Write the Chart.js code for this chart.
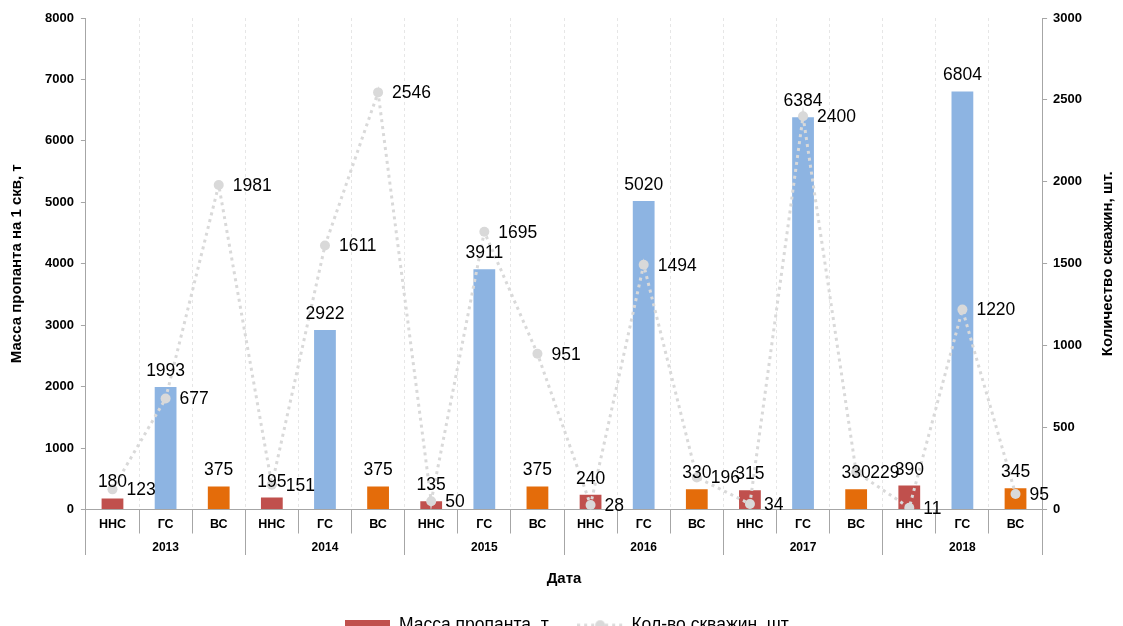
<!DOCTYPE html>
<html>
<head>
<meta charset="utf-8">
<script src="https://cdn.jsdelivr.net/npm/chart.js@4.4.0/dist/chart.umd.min.js"></script>
<style>
  html, body { margin: 0; padding: 0; background: #fff; overflow: hidden; }
  #wrap { position: relative; width: 1123px; height: 644px; }
</style>
</head>
<body>
<div id="wrap"><canvas id="chart"></canvas></div>
<script>
// Years and well types that form the two-level category axis
const years = ['2013', '2014', '2015', '2016', '2017', '2018'];
const wellTypes = ['ННС', 'ГС', 'ВС'];

// Proppant mass per well, t (one value per year × well type)
const proppantMass = [180, 1993, 375, 195, 2922, 375, 135, 3911, 375, 240, 5020, 330, 315, 6384, 330, 390, 6804, 345];

// Number of wells (one value per year × well type)
const wellCount = [123, 677, 1981, 151, 1611, 2546, 50, 1695, 951, 28, 1494, 196, 34, 2400, 229, 11, 1220, 95];

// Axis ranges
const massAxisMax = 8000, massAxisStep = 1000;
const countAxisMax = 3000, countAxisStep = 500;

const categoryLabels = years.flatMap(() => wellTypes);

const FONT = '"Liberation Sans", Arial, sans-serif';
const typeColors = { 'ННС': '#C0504D', 'ГС': '#8DB4E2', 'ВС': '#E46C0A' };
const pointGray = '#D9D9D9';
const axisGray = '#A6A6A6';

// Legend sample images
function makeBarSample() {
  const c = document.createElement('canvas');
  c.width = 45; c.height = 10;
  const g = c.getContext('2d');
  g.fillStyle = typeColors['ННС'];
  g.fillRect(0, 0, 45, 10);
  return c;
}
function makeLineSample() {
  const c = document.createElement('canvas');
  c.width = 46; c.height = 12;
  const g = c.getContext('2d');
  g.strokeStyle = pointGray;
  g.lineWidth = 3;
  g.setLineDash([3, 4]);
  g.beginPath(); g.moveTo(0, 6); g.lineTo(46, 6); g.stroke();
  g.fillStyle = pointGray;
  g.beginPath(); g.arc(23, 6, 5, 0, Math.PI * 2); g.fill();
  return c;
}

// Value labels: above bars, to the right of line points
const valueLabels = {
  id: 'valueLabels',
  afterDatasetsDraw(chart) {
    const ctx = chart.ctx;
    ctx.save();
    ctx.font = '17.5px ' + FONT;
    ctx.fillStyle = '#000';
    chart.data.datasets.forEach((ds, di) => {
      const meta = chart.getDatasetMeta(di);
      meta.data.forEach((el, i) => {
        const v = ds.data[i];
        if (ds.type === 'line') {
          ctx.textAlign = 'left';
          ctx.textBaseline = 'middle';
          ctx.fillText(String(v), el.x + 14, el.y + 1);
        } else {
          ctx.textAlign = 'center';
          ctx.textBaseline = 'alphabetic';
          ctx.fillText(String(v), el.x, el.y - 11);
        }
      });
    });
    ctx.restore();
  }
};

// Right axis title, reading bottom-to-top like the left one
const rightTitle = {
  id: 'rightTitle',
  afterDraw(chart) {
    const s = chart.scales.y1;
    const t = s.options.title;
    const size = t.font.size;
    const lh = size * 1.2;
    const x = s.right - lh / 2 - t.padding.top;
    const y = (s.top + s.bottom) / 2;
    const ctx = chart.ctx;
    ctx.save();
    ctx.translate(x, y);
    ctx.rotate(-Math.PI / 2);
    ctx.font = 'bold ' + size + 'px ' + FONT;
    ctx.fillStyle = '#000';
    ctx.textAlign = 'center';
    ctx.textBaseline = 'middle';
    ctx.fillText(t.text, 0, 0);
    ctx.restore();
  }
};

new Chart(document.getElementById('chart'), {
  data: {
    labels: categoryLabels,
    datasets: [
      {
        type: 'bar',
        label: 'Масса пропанта, т',
        data: proppantMass,
        backgroundColor: categoryLabels.map(t => typeColors[t]),
        borderWidth: 0,
        categoryPercentage: 1,
        barPercentage: 0.41,
        yAxisID: 'y',
        xAxisID: 'x',
        order: 1
      },
      {
        type: 'line',
        label: 'Кол-во скважин, шт.',
        data: wellCount,
        borderColor: pointGray,
        borderWidth: 3,
        borderDash: [3, 4],
        backgroundColor: pointGray,
        pointBackgroundColor: pointGray,
        pointBorderWidth: 0,
        pointRadius: 5,
        tension: 0,
        fill: false,
        yAxisID: 'y1',
        xAxisID: 'x',
        order: 0
      }
    ]
  },
  options: {
    responsive: true,
    maintainAspectRatio: false,
    animation: false,
    layout: { padding: { top: 18, left: 14, right: 0, bottom: 0 } },
    plugins: {
      tooltip: { enabled: false },
      legend: {
        position: 'bottom',
        labels: {
          usePointStyle: true,
          pointStyleWidth: 45,
          padding: 29,
          color: '#000',
          font: { family: FONT, size: 17.5 },
          generateLabels(chart) {
            const items = Chart.defaults.plugins.legend.labels.generateLabels(chart);
            items.sort((a, b) => a.datasetIndex - b.datasetIndex);
            items.forEach(it => {
              it.pointStyle = it.datasetIndex === 0 ? makeBarSample() : makeLineSample();
            });
            return items;
          }
        }
      }
    },
    scales: {
      x: {
        type: 'category',
        position: 'bottom',
        weight: 1,
        offset: true,
        grid: {
          offset: true,
          color: '#E6E6E6',
          tickColor: axisGray,
          tickLength: 24,
          tickBorderDash: [],
          drawOnChartArea: true
        },
        border: { display: true, color: axisGray, dash: [3, 3] },
        ticks: {
          autoSkip: false,
          maxRotation: 0,
          padding: -17.75,
          color: '#000',
          font: { family: FONT, size: 12.5, weight: 'bold', lineHeight: 1.4 },
          // second empty line keeps room for the separators below the axis
          callback(value) { return [this.getLabelForValue(value), '']; }
        }
      },
      x2: {
        type: 'category',
        labels: years,
        position: 'bottom',
        weight: 2,
        offset: true,
        grid: {
          offset: true,
          drawOnChartArea: false,
          tickColor: axisGray,
          tickLength: 22,
          tickBorderDash: []
        },
        border: { display: false },
        ticks: {
          autoSkip: false,
          maxRotation: 0,
          padding: -14.2,
          color: '#000',
          font: { family: FONT, size: 12, weight: 'bold' }
        },
        title: {
          display: true,
          text: 'Дата',
          color: '#000',
          font: { family: FONT, size: 15, weight: 'bold' },
          padding: { top: 28.5, bottom: 0 }
        }
      },
      y: {
        type: 'linear',
        position: 'left',
        min: 0,
        max: massAxisMax,
        ticks: {
          stepSize: massAxisStep,
          padding: 7,
          color: '#000',
          font: { family: FONT, size: 13, weight: 'bold' },
          callback: v => String(v)
        },
        grid: { drawOnChartArea: false, tickLength: 5, color: axisGray },
        border: { display: true, color: axisGray },
        title: {
          display: true,
          text: 'Масса пропанта на 1 скв, т',
          color: '#000',
          font: { family: FONT, size: 15, weight: 'bold' },
          padding: { top: -6, bottom: 12 }
        }
      },
      y1: {
        type: 'linear',
        position: 'right',
        min: 0,
        max: countAxisMax,
        ticks: {
          stepSize: countAxisStep,
          padding: 6,
          color: '#000',
          font: { family: FONT, size: 13, weight: 'bold' },
          callback: v => String(v)
        },
        grid: { drawOnChartArea: false, tickLength: 5, color: axisGray },
        border: { display: true, color: axisGray },
        title: {
          display: true,
          text: 'Количество скважин, шт.',
          color: 'rgba(0,0,0,0)',
          font: { family: FONT, size: 15, weight: 'bold' },
          padding: { top: 6, bottom: 11 }
        }
      }
    }
  },
  plugins: [valueLabels, rightTitle]
});
</script>
</body>
</html>
